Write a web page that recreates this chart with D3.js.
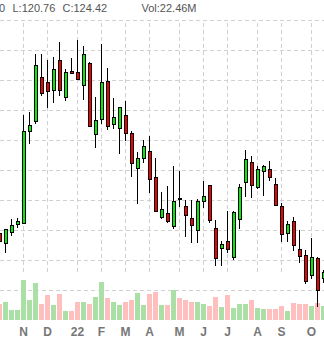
<!DOCTYPE html>
<html>
<head>
<meta charset="utf-8">
<script src="https://cdn.jsdelivr.net/npm/d3@7"></script>
<style>
  html, body { margin: 0; padding: 0; background: #fff; }
  svg { display: block; font-family: "Liberation Sans", Arial, sans-serif; }
</style>
</head>
<body>
<div id="chart"></div>
<script>
// weekly candles, first week starts on this monday
const firstWeek = new Date(2021, 9, 4);
const lastWeek = new Date(2022, 9, 17);

const opens = [139.0, 135.7, 139.3, 142.0, 142.3, 173.0, 176.3, 191.0, 189.3, 186.7,
    196.7, 184.3, 193.0, 192.7, 188.3, 195.7, 172.0, 177.0, 189.7, 175.3,
    174.0, 178.3, 172.3, 160.7, 164.0, 166.3, 157.7, 144.3, 145.7, 141.3,
    150.8, 148.0, 144.0, 140.0, 149.7, 155.0, 140.7, 134.0, 136.3, 131.0,
    143.7, 156.0, 162.7, 154.3, 159.7, 160.3, 155.3, 148.0, 139.0, 143.0,
    133.7, 131.7, 125.0, 130.7, 124.0];
const highs = [139.7, 140.3, 143.7, 144.0, 178.3, 179.3, 198.7, 198.7, 196.7, 197.7,
    202.7, 193.7, 197.3, 203.3, 201.3, 196.0, 184.3, 202.0, 194.0, 184.0,
    181.0, 183.0, 173.0, 166.0, 170.0, 171.3, 164.0, 152.7, 154.7, 161.3,
    159.7, 150.0, 150.0, 150.3, 156.3, 155.0, 143.3, 136.3, 146.3, 146.3,
    155.3, 166.7, 164.7, 161.3, 161.7, 163.0, 157.3, 149.0, 143.0, 144.3,
    140.0, 133.3, 137.3, 131.0, 126.7];
const lows = [135.3, 132.3, 138.0, 140.7, 142.0, 168.7, 175.3, 184.7, 180.7, 182.3,
    184.7, 183.0, 192.0, 190.0, 183.3, 174.3, 167.3, 175.3, 173.3, 173.7,
    165.3, 169.7, 157.7, 148.7, 162.3, 152.3, 146.0, 143.7, 142.3, 140.3,
    147.7, 137.7, 135.7, 135.7, 147.3, 142.3, 128.0, 128.0, 132.3, 130.0,
    140.3, 151.0, 150.7, 153.7, 151.3, 156.3, 148.0, 136.0, 136.0, 133.0,
    129.0, 122.0, 123.7, 114.3, 122.3];
const closes = [136.3, 140.3, 141.7, 143.0, 173.0, 175.0, 195.0, 185.7, 186.3, 193.7,
    186.7, 192.7, 192.3, 190.3, 198.7, 174.7, 176.7, 189.3, 174.7, 177.7,
    181.0, 172.3, 162.3, 164.0, 168.0, 157.0, 146.3, 147.0, 143.0, 149.7,
    150.5, 145.0, 141.7, 149.7, 151.3, 143.3, 130.7, 135.3, 133.7, 146.0,
    154.3, 163.7, 155.0, 160.3, 161.3, 157.7, 148.3, 138.7, 142.0, 135.0,
    131.3, 123.0, 131.0, 120.0, 126.0];
// volume in millions
const volumes = [25.6, 28.8, 16.0, 16.0, 64.0, 32.0, 59.2, 25.6, 40.0, 24.0,
    41.6, 14.4, 14.4, 28.8, 28.8, 25.6, 36.8, 60.8, 35.2, 28.8,
    24.0, 28.8, 32.0, 43.2, 24.0, 41.6, 44.8, 24.0, 24.0, 48.0,
    35.2, 32.0, 28.8, 28.8, 25.6, 22.4, 36.8, 20.8, 40.0, 19.2,
    25.6, 25.6, 32.0, 19.2, 17.6, 17.6, 17.6, 22.4, 14.4, 27.2,
    25.6, 25.6, 22.4, 27.2, 22.4];

const priceTicks = [120, 130, 140, 150, 160, 170, 180, 190, 200, 210];
const header = [
    { text: "0", x: -1 },
    { text: "L:120.76", x: 12.5 },
    { text: "C:124.42", x: 62.5 },
    { text: "Vol:22.46M", x: 141.5 }
];

const width = 324, height = 340;
const gridTop = 20, gridBottom = 272, volBottom = 320;

const weeks = d3.timeMonday.range(firstWeek, d3.timeDay.offset(lastWeek, 1));
const data = weeks.map((d, i) => ({
    i: i,
    date: d,
    open: opens[i], high: highs[i], low: lows[i], close: closes[i],
    volume: volumes[i]
}));

// a tick wherever the week's friday falls in a new month
const fridays = weeks.map(d => d3.timeDay.offset(d, 4));
const monthTicks = [];
fridays.forEach((f, i) => {
    if (i > 0 && f.getMonth() !== fridays[i - 1].getMonth()) monthTicks.push(i);
});
const monthLabel = i => {
    const f = fridays[i];
    return f.getMonth() === 0 ? d3.timeFormat("%y")(f) : d3.timeFormat("%b")(f)[0];
};

const svg = d3.select("#chart").append("svg")
    .attr("width", width)
    .attr("height", height);

const x = d3.scaleLinear()
    .domain([0, data.length - 1])
    .range([-0.7, -0.7 + 6 * (data.length - 1)])
    .interpolate(d3.interpolateRound);

const y = d3.scaleLinear()
    .domain([120, 210])
    .range([290, 20]);

const vy = d3.scaleLinear()
    .domain([0, 64])
    .range([volBottom, volBottom - 40]);

const gridColor = "#d0d0d0";

// horizontal grid
const hGrid = svg.append("g")
    .call(d3.axisLeft(y).tickValues(priceTicks).tickSize(-width).tickFormat(""));
hGrid.select(".domain").remove();
hGrid.selectAll("line")
    .attr("stroke", gridColor)
    .attr("stroke-dasharray", "4,3");

// vertical grid at month starts
const vGrid = svg.append("g")
    .attr("transform", `translate(0,${gridBottom})`)
    .call(d3.axisBottom(x).tickValues(monthTicks).tickSize(-(gridBottom - gridTop)).tickFormat(""));
vGrid.select(".domain").remove();
vGrid.selectAll("line")
    .attr("stroke", gridColor)
    .attr("stroke-dasharray", "4,3");

// volume bars
svg.append("g").selectAll("rect")
    .data(data)
    .join("rect")
    .attr("x", d => x(d.i) - 2)
    .attr("width", 5)
    .attr("y", d => Math.round(vy(d.volume)))
    .attr("height", d => volBottom - Math.round(vy(d.volume)))
    .attr("fill", d => d.close >= d.open ? "#aadfa5" : "#ffbfbf");

// candles
const candles = svg.append("g").selectAll("g")
    .data(data)
    .join("g");

candles.append("line")
    .attr("x1", d => x(d.i) + 0.5)
    .attr("x2", d => x(d.i) + 0.5)
    .attr("y1", d => Math.round(y(d.high)))
    .attr("y2", d => Math.round(y(d.low)))
    .attr("stroke", "#000")
    .attr("stroke-width", 1);

candles.append("rect")
    .attr("x", d => x(d.i) - 0.5)
    .attr("width", 3)
    .attr("y", d => Math.round(y(Math.max(d.open, d.close))) + 0.5)
    .attr("height", d => Math.max(1, Math.round(y(Math.min(d.open, d.close))) - Math.round(y(Math.max(d.open, d.close)))))
    .attr("fill", d => d.close >= d.open ? "#00f000" : "#f00000")
    .attr("stroke", "#000")
    .attr("stroke-width", 1);

// month labels
const xAxis = svg.append("g")
    .attr("transform", `translate(0,${volBottom + 4})`)
    .call(d3.axisBottom(x).tickValues(monthTicks).tickSize(0).tickFormat(monthLabel));
xAxis.select(".domain").remove();
xAxis.selectAll("text")
    .attr("fill", "#777")
    .style("font-size", "12px")
    .style("font-weight", "bold")
    .style("font-family", "'Liberation Sans', Arial, sans-serif");

// ohlc header
svg.append("g").selectAll("text")
    .data(header)
    .join("text")
    .attr("x", d => d.x)
    .attr("y", 12)
    .attr("fill", "#555")
    .style("font-size", "11px")
    .text(d => d.text);
</script>
</body>
</html>
